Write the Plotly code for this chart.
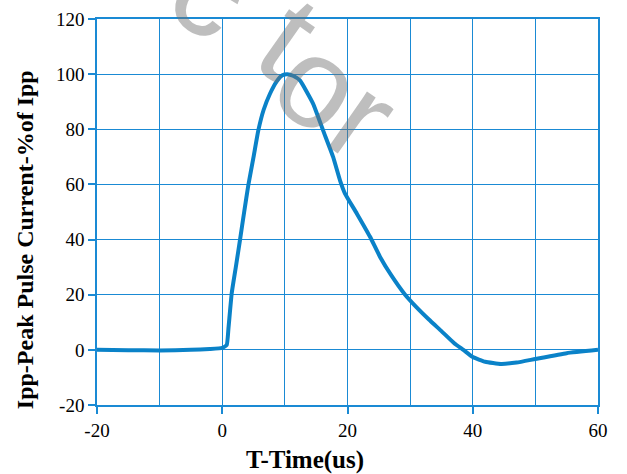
import plotly.graph_objects as go

# Data
time_us = [-20, -15, -10, -5, -2, 0, 0.71, 1.0, 1.51, 2.2, 2.83, 3.5, 4.16, 5.0, 5.76, 6.6, 7.62, 8.7, 9.6,
           10.4, 11.3, 12.4, 14.5, 16.1, 17.7, 18.8, 19.6, 21.5, 23.6, 25.2, 27, 29.2, 31, 33, 35, 37, 38.5,
           40, 42, 44.5, 47, 50, 55, 60]
current_pct = [0, -0.1, -0.2, 0, 0.3, 0.7, 1.75, 8, 20.5, 30.5, 39.8, 50, 59.7, 70, 79.6, 87, 92.9, 97.4, 99.6,
               100, 99.4, 97.7, 89.3, 79.6, 70, 61.5, 56.7, 49.4, 41, 33.7, 27, 20, 15.5, 11, 6.8, 2.5, 0,
               -2.6, -4.3, -5.1, -4.6, -3.3, -1.2, 0]

x_ticks = [-20, 0, 20, 40, 60]
x_tick_text = ["-20", "0", "20", "40", "60"]
y_ticks = [-20, 0, 20, 40, 60, 80, 100, 120]
y_tick_text = ["-20", "0", "20", "40", "60", "80", "100", "120"]

x_title = "<b>T-Time(us)</b>"
y_title = "<b>Ipp-Peak Pulse Current-%of Ipp</b>"
watermark_letters = ["c", "t", "o", "r"]

grid = "#1a8ad4"
serif = "Liberation Serif, Times New Roman, serif"

fig = go.Figure()
fig.add_trace(go.Scatter(x=time_us, y=current_pct, mode="lines",
                         line=dict(color="#0a82c8", width=4, shape="spline", smoothing=0.4),
                         showlegend=False))

# plot-area pixel frame, used to convert pixel positions of texts to paper coords
L, R, T, B = 97, 598, 18.5, 405
def px2paper(px, py):
    return (px - L) / (R - L), (B - py) / (B - T)

wm_px = [(212, -9), (289, 37), (319, 83), (364, 117)]
for ch, (px, py) in zip(watermark_letters, wm_px):
    ax_, ay_ = px2paper(px, py)
    fig.add_annotation(text=ch, xref="paper", yref="paper", x=ax_, y=ay_,
                       xanchor="center", yanchor="middle",
                       showarrow=False, textangle=35,
                       font=dict(family="Liberation Sans", size=128, color="rgba(110,110,110,0.45)"))

tx, ty = px2paper(305, 460)
fig.add_annotation(text=x_title, xref="paper", yref="paper", x=tx, y=ty,
                   xanchor="center", yanchor="middle", showarrow=False,
                   font=dict(size=25, family=serif, color="black"))
tx, ty = px2paper(25, 240)
fig.add_annotation(text=y_title, xref="paper", yref="paper", x=tx, y=ty,
                   xanchor="center", yanchor="middle", showarrow=False, textangle=-90,
                   font=dict(size=24, family=serif, color="black"))

fig.update_layout(
    width=627, height=474,
    margin=dict(l=97, r=29, t=18.5, b=69, autoexpand=False),
    paper_bgcolor="white", plot_bgcolor="white",
    font=dict(family=serif, size=19, color="black"),
    xaxis=dict(range=[-20, 60], tickvals=x_ticks, ticktext=x_tick_text, ticks="outside", ticklen=7, tickcolor=grid,
               tickwidth=1.5, automargin=False,
               showgrid=True, gridcolor=grid, gridwidth=1.4,
               minor=dict(dtick=10, tick0=0, showgrid=True, gridcolor=grid, gridwidth=1.4),
               showline=True, linecolor=grid, linewidth=1.5, mirror=True, zeroline=False,
               tickfont=dict(size=19, family=serif)),
    yaxis=dict(range=[-20, 120], tickvals=y_ticks, ticktext=y_tick_text, ticks="outside", ticklen=7, tickcolor=grid,
               tickwidth=1.5, automargin=False,
               showgrid=True, gridcolor=grid, gridwidth=1.4,
               showline=True, linecolor=grid, linewidth=1.5, mirror=True, zeroline=False,
               tickfont=dict(size=19, family=serif)),
)

fig.write_html("out.html")
